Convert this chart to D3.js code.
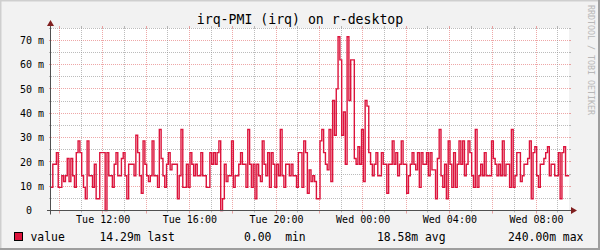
<!DOCTYPE html>
<html><head><meta charset="utf-8">
<script src="https://cdn.jsdelivr.net/npm/d3@7"></script>
<style>
html,body{margin:0;padding:0;background:#F2F2F2;}
svg{display:block;}
text{font-family:"DejaVu Sans Mono", monospace;}
</style>
</head><body>
<svg id="c" width="600" height="250"></svg>
<script>
// ---------- data ----------
const chartTitle = "irq-PMI (irq) on r-desktop";
const seriesName = "value";
const startTime = "2024-01-02T09:36:50Z";
const endTime = "2024-01-03T09:31:22Z";
const stepMinutes = 5;
// values in milli-units (m)
const values = [
  9.5, 19, 19, 23.8, 9.5, 9.5, 14.3, 11.9, 14.3, 21.4, 11.9, 21.4, 14.3, 9.5, 23.8, 28.6, 23.8, 14.3, 9.5, 4.8,
  28.6, 14.3, 14.3, 9.5, 19, 4.8, 4.8, 23.8, 23.8, 23.8, 0, 23.8, 14.3, 14.3, 9.5, 19, 23.8, 14.3, 14.3, 21.4,
  23.8, 14.3, 4.8, 19, 19, 19, 14.3, 30.9, 23.8, 14.3, 7.1, 28.6, 19, 14.3, 11.9, 14.3, 28.6, 14.3, 14.3, 9.5,
  33.3, 21.4, 14.3, 9.5, 19, 23.8, 16.7, 19, 19, 19, 4.8, 14.3, 33.3, 9.5, 9.5, 19, 9.5, 23.8, 19, 14.3,
  19, 14.3, 14.3, 23.8, 14.3, 14.3, 9.5, 9.5, 23.8, 19, 23.8, 19, 23.8, 28.6, 0, 4.8, 19, 11.9, 14.3, 14.3,
  28.6, 9.5, 14.3, 14.3, 19, 23.8, 19, 19, 9.5, 33.3, 19, 9.5, 19, 4.8, 19, 14.3, 11.9, 28.6, 19, 14.3,
  23.8, 9.5, 23.8, 19, 9.5, 19, 14.3, 33.3, 14.3, 9.5, 19, 19, 14.3, 19, 14.3, 14.3, 9.5, 23.8, 23.8, 9.5,
  28.6, 23.8, 7.1, 16.7, 11.9, 14.3, 11.9, 4.8, 4.8, 28.6, 33.3, 23.8, 19, 16.7, 33.3, 11.9, 45.2, 30.9, 50, 71.4,
  61.9, 30.9, 40.5, 19, 71.4, 45.2, 61.9, 61.9, 21.4, 19, 26.2, 19, 33.3, 11.9, 45.2, 42.9, 23.8, 19, 14.3, 19,
  23.8, 14.3, 14.3, 23.8, 19, 19, 7.1, 19, 19, 28.6, 19, 23.8, 14.3, 19, 28.6, 19, 19, 7.1, 14.3, 19,
  23.8, 19, 16.7, 23.8, 9.5, 23.8, 19, 19, 23.8, 14.3, 23.8, 16.7, 16.7, 4.8, 21.4, 33.3, 14.3, 9.5, 19, 4.8,
  28.6, 19, 9.5, 23.8, 9.5, 19, 28.6, 19, 28.6, 14.3, 19, 28.6, 23.8, 14.3, 9.5, 33.3, 9.5, 14.3, 19, 14.3,
  23.8, 14.3, 14.3, 14.3, 28.6, 21.4, 19, 14.3, 19, 14.3, 28.6, 14.3, 19, 19, 9.5, 33.3, 9.5, 14.3, 23.8, 23.8,
  11.9, 14.3, 19, 19, 21.4, 28.6, 4.8, 23.8, 26.2, 14.3, 9.5, 19, 19, 21.4, 23.8, 26.2, 14.3, 19, 19, 14.3,
  14.3, 23.8, 4.8, 23.8, 26.2, 14.3, 14.29
];
const yDomain = [0, 75];
const yMajorTicks = [0, 10, 20, 30, 40, 50, 60, 70];
const yMinorTicks = [5, 15, 25, 35, 45, 55, 65, 75];
const xLabelTimes = ["2024-01-02T12:00:00Z","2024-01-02T16:00:00Z","2024-01-02T20:00:00Z",
                     "2024-01-03T00:00:00Z","2024-01-03T04:00:00Z","2024-01-03T08:00:00Z"];
const legendStats = ["14.29m last", "0.00  min", "18.58m avg", "240.00m max"];
const watermark = "RRDTOOL / TOBI OETIKER";

// ---------- layout ----------
const W = 600, H = 250;
const X0 = 51, X1 = 569, Y0 = 210.5, Y1 = 28;
const legendX = [99.5, 244, 377, 508];
const colors = {
  back: "#F2F2F2", canvas: "#FFFFFF", shadeA: "#CFCFCF", shadeB: "#9E9E9E",
  grid: "rgba(143,143,143,0.6)", mgrid: "rgba(222,79,79,0.5)",
  axis: "#505050", arrow: "#801F1F", font: "#000000", line: "#DC143C"
};

const svg = d3.select("#c");
svg.append("rect").attr("width", W).attr("height", H).attr("fill", colors.back);
// 3D frame
svg.append("rect").attr("x",0).attr("y",0).attr("width",W).attr("height",1.5).attr("fill",colors.shadeA);
svg.append("rect").attr("x",0).attr("y",0).attr("width",1.5).attr("height",H).attr("fill",colors.shadeA);
svg.append("rect").attr("x",W-2).attr("y",0).attr("width",2).attr("height",H).attr("fill",colors.shadeB);
svg.append("rect").attr("x",0).attr("y",H-2).attr("width",W).attr("height",2).attr("fill",colors.shadeB);

const t0 = new Date(startTime), t1 = new Date(endTime);
const x = d3.scaleUtc().domain([t0, t1]).range([X0, X1]);
const y = d3.scaleLinear().domain(yDomain).range([Y0, Y1]);

// canvas
svg.append("rect").attr("x", X0).attr("y", Y1).attr("width", X1 - X0).attr("height", Y0 - Y1).attr("fill", colors.canvas);

const g = svg.append("g");
const snap = v => Math.round(v - 0.5) + 0.5;

// horizontal grid
function hline(v, col) {
  const yy = snap(y(v));
  g.append("line").attr("x1", X0 - 2).attr("x2", X0).attr("y1", yy).attr("y2", yy).attr("stroke", col);
  g.append("line").attr("x1", X1).attr("x2", X1 + 2).attr("y1", yy).attr("y2", yy).attr("stroke", col);
  g.append("line").attr("x1", X0).attr("x2", X1).attr("y1", yy).attr("y2", yy)
    .attr("stroke", col).attr("stroke-dasharray", "1,1");
}
yMinorTicks.forEach(v => hline(v, colors.grid));
yMajorTicks.filter(v => v > 0).forEach(v => hline(v, colors.mgrid));

// vertical grid
const hours = d3.utcHour.every(1).range(t0, t1);
hours.forEach(h => {
  const major = h.getUTCHours() % 2 === 0;
  const col = major ? colors.mgrid : colors.grid;
  const xx = snap(x(h));
  g.append("line").attr("x1", xx).attr("x2", xx).attr("y1", Y0).attr("y2", Y0 + (major ? 3 : 2)).attr("stroke", col);
  g.append("line").attr("x1", xx).attr("x2", xx).attr("y1", Y1 - 2).attr("y2", Y1).attr("stroke", col);
  g.append("line").attr("x1", xx).attr("x2", xx).attr("y1", Y1).attr("y2", Y0)
    .attr("stroke", col).attr("stroke-dasharray", "1,1");
});

// data line (step)
const stepMs = stepMinutes * 60000;
const pts = values.map((v, i) => ({t: new Date(+t0 + i * stepMs), v}));
pts.push({t: new Date(+t0 + values.length * stepMs), v: values[values.length - 1]});
const line = d3.line().x(d => x(d.t)).y(d => y(d.v)).curve(d3.curveStepAfter);
svg.append("path").datum(pts).attr("d", line).attr("fill", "none")
  .attr("stroke", colors.line).attr("stroke-width", 1.4).attr("stroke-linejoin", "miter");

// axes lines
svg.append("line").attr("x1", X0 - 4).attr("x2", X1 + 4).attr("y1", Y0).attr("y2", Y0).attr("stroke", colors.axis);
svg.append("line").attr("x1", X0 - 0.5).attr("x2", X0 - 0.5).attr("y1", Y0 + 4).attr("y2", Y1 - 4).attr("stroke", colors.axis);
// arrows
svg.append("path").attr("d", `M${X1+2},${Y0-3.5}L${X1+8},${Y0}L${X1+2},${Y0+3.5}Z`).attr("fill", colors.arrow);
svg.append("path").attr("d", `M${X0-4},${Y1-2}L${X0-0.5},${Y1-8}L${X0+3},${Y1-2}Z`).attr("fill", colors.arrow);

// y axis labels
const yAxis = d3.axisLeft(y).tickValues(yMajorTicks).tickSize(0).tickPadding(7)
  .tickFormat(d => d === 0 ? "0\u00a0\u00a0" : d + " m");
const ya = svg.append("g").attr("transform", `translate(${X0},0)`).call(yAxis);
ya.select(".domain").remove();
ya.selectAll("text").attr("font-size", 10).attr("font-family", "DejaVu Sans Mono").attr("fill", colors.font);

// x axis labels
const xAxis = d3.axisBottom(x).tickValues(xLabelTimes.map(s => new Date(s))).tickSize(0).tickPadding(5.4)
  .tickFormat(d3.utcFormat("%a %H:%M"));
const xa = svg.append("g").attr("transform", `translate(0,${Y0})`).call(xAxis);
xa.select(".domain").remove();
xa.selectAll("text").attr("font-size", 10).attr("font-family", "DejaVu Sans Mono").attr("fill", colors.font);

// title
svg.append("text").attr("x", 300).attr("y", 24).attr("text-anchor", "middle")
  .attr("font-size", 13.2).attr("fill", colors.font).text(chartTitle);

// legend
svg.append("rect").attr("x", 14.5).attr("y", 232.5).attr("width", 8).attr("height", 8)
  .attr("fill", colors.line).attr("stroke", "#000").attr("stroke-width", 1);
svg.append("text").attr("x", 30.5).attr("y", 241).attr("font-size", 11.4).attr("fill", colors.font).text(seriesName);
legendStats.forEach((s, i) => {
  svg.append("text").attr("x", legendX[i]).attr("y", 241).attr("font-size", 11.4)
    .attr("fill", colors.font).style("white-space", "pre").text(s);
});

// watermark
svg.append("text").attr("transform", "translate(587.5,5) rotate(90)")
  .attr("font-size", 8.3).attr("fill", "#B8B8B8").text(watermark);
</script>
</body></html>
